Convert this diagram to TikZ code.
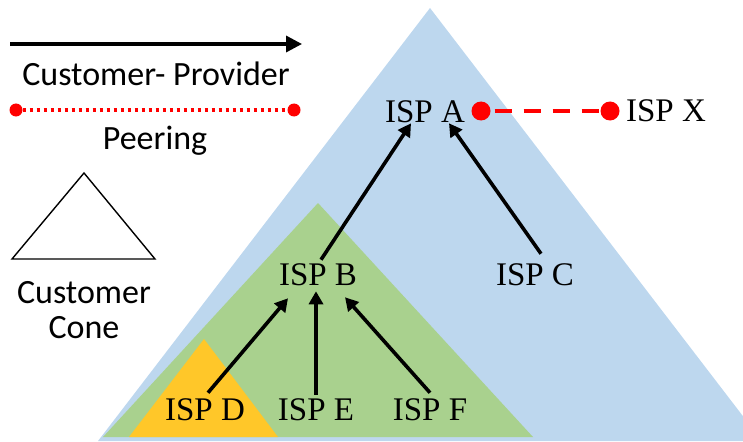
\documentclass[tikz,border=0pt]{standalone}
\usepackage{fontspec}
\usepackage{tikz}
\usetikzlibrary{arrows.meta}
\newfontfamily\ispserif{Liberation Serif}
\newfontfamily\legsans{Carlito}
\definecolor{coneblue}{HTML}{BDD7EE}
\definecolor{conegreen}{HTML}{A9D18E}
\definecolor{coneyellow}{HTML}{FFC729}
\definecolor{peerred}{HTML}{FF0000}

\begin{document}
\begin{tikzpicture}[x=1pt, y=-1pt,
    isp/.style={inner sep=2pt, font=\ispserif\fontsize{33}{36}\selectfont},
    legtext/.style={inner sep=0pt, font=\legsans\fontsize{34}{38}\selectfont},
    cp/.style={line width=3.6pt, -{Triangle[length=13pt, width=14pt]}},
    peerdot/.style={circle, fill=peerred, inner sep=0pt, minimum size=#1}]
    \useasboundingbox (0,0) rectangle (743,441);
    % 客户锥
    \begin{scope}
      \clip (0,0) rectangle (743,441);
      \fill[coneblue] (430,8) -- (98,441) -- (762,441) -- cycle;
    \end{scope}
    \fill[conegreen] (318,203) -- (103,437) -- (533,437) -- cycle;
    \fill[coneyellow] (204,339) -- (129,437) -- (278,437) -- cycle;
    % 图例
    \coordinate (cpl) at (10,44);
    \coordinate (cpr) at (302,44);
    \draw[line width=3.4pt, -{Triangle[length=16pt, width=16pt]}] (cpl) -- (cpr);
    \node[legtext] (cptext) at (156,74) {Customer- Provider};
    \node[peerdot=13pt] (lpl) at (16,110) {};
    \node[peerdot=13pt] (lpr) at (294,110) {};
    \draw[peerred, line width=3.4pt, dash pattern=on 3.5pt off 3.5pt] (lpl) -- (lpr);
    \node[legtext] (peertext) at (155,141) {Peering};
    \draw[line width=1.4pt] (84,173) -- (12,259) -- (155,259) -- cycle;
    \node[legtext] (conetext1) at (84,293) {Customer};
    \node[legtext] (conetext2) at (84,328) {Cone};
    % 各个 ISP
    \node[isp] (a) at (425,112) {ISP A};
    \node[isp] (x) at (666,111) {ISP X};
    \node[isp] (b) at (318,275) {ISP B};
    \node[isp] (c) at (535,275) {ISP C};
    \node[isp] (d) at (205,410) {ISP D};
    \node[isp] (e) at (316,410) {ISP E};
    \node[isp] (f) at (430,410) {ISP F};
    % 对等连接
    \node[peerdot=19pt] (pa) at (481,111) {};
    \node[peerdot=19pt] (px) at (610,111) {};
    \draw[peerred, line width=3.6pt, dash pattern=on 17pt off 12pt, dash phase=-4pt] (pa) -- (px);
    % 客户-提供商
    \draw[cp] ([shift={(3,-2)}]b.north) -- ([shift={(-14,-2)}]a.south);
    \draw[cp] ([shift={(6,-8)}]c.north) -- ([shift={(24,-2)}]a.south);
    \draw[cp] ([shift={(3,-4)}]d.north) -- ([shift={(-30,10)}]b.south);
    \draw[cp] ([shift={(0,-2)}]e.north) -- ([shift={(-2,3)}]b.south);
    \draw[cp] ([shift={(0,-4)}]f.north) -- ([shift={(27,9)}]b.south);
\end{tikzpicture}
\end{document}
